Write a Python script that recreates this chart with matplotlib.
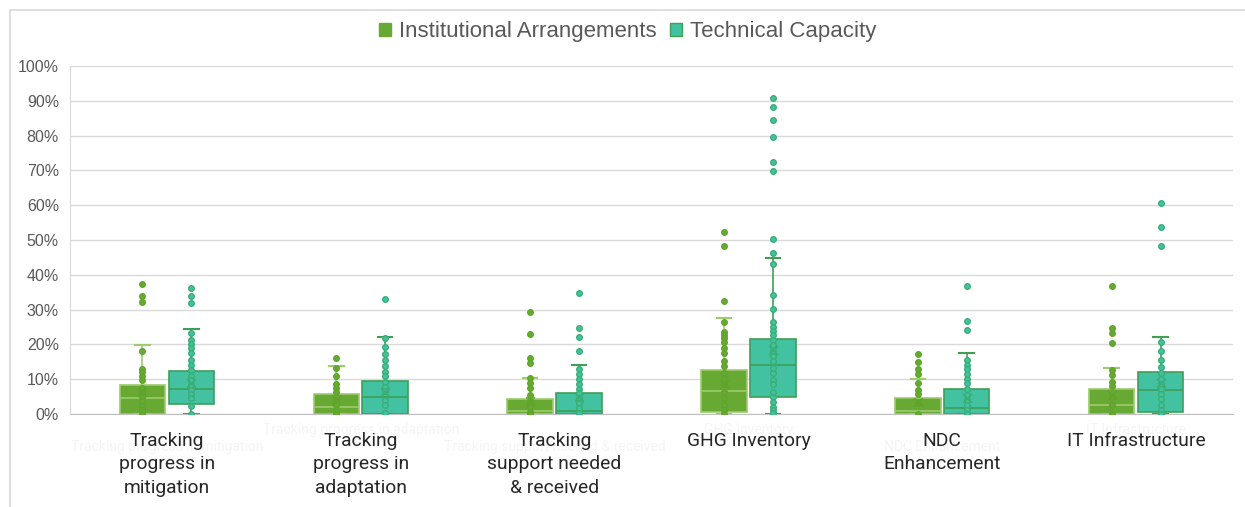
import numpy as np
import matplotlib.pyplot as plt
from matplotlib.patches import Patch, Rectangle
from matplotlib.ticker import PercentFormatter

categories = ['Tracking\nprogress in\nmitigation', 'Tracking\nprogress in\nadaptation',
              'Tracking\nsupport needed\n& received', 'GHG Inventory',
              'NDC\nEnhancement', 'IT Infrastructure']
ghost_labels = ['Tracking progress in mitigation', 'Tracking progress in adaptation',
                'Tracking support needed & received', 'GHG Inventory',
                'NDC Enhancement', 'IT Infrastructure']
series = ['Institutional Arrangements', 'Technical Capacity']

# Institutional Arrangements box stats (%)
ia_q1 = [0, 0, 0, 0.5, 0, 0]
ia_med = [4.7, 2.1, 0.8, 6.6, 0.8, 2.6]
ia_q3 = [8.3, 5.7, 4.2, 12.6, 4.7, 7.2]
ia_lo = [0, 0, 0, 0, 0, 0]
ia_hi = [19.9, 13.8, 10.3, 27.7, 10.0, 13.3]
ia_mean = [6.2, 4.0, 3.6, 8.5, 3.4, 5.4]
ia_points = [
    [37.5, 34.0, 32.1, 18.2, 12.8, 12.0, 10.9, 9.8, 7.5, 6.3, 4.7, 3.6, 2.3, 1.1, 0],
    [16.1, 13.1, 11.0, 8.5, 7.4, 6.2, 4.0, 2.6, 1.1, 0],
    [29.2, 22.9, 16.0, 14.6, 10.3, 8.8, 7.4, 5.5, 3.5, 2.1, 0.7, 0],
    [52.2, 48.4, 32.6, 26.5, 23.7, 22.7, 21.7, 20.6, 19.1, 17.4, 15.2, 13.9,
     11.7, 10.2, 8.5, 6.4, 4.5, 2.6, 1.1, 0],
    [17.2, 14.9, 12.8, 11.5, 8.8, 6.9, 5.7, 3.1, 0],
    [36.7, 24.8, 23.2, 20.5, 12.6, 11.2, 9.3, 8.0, 5.0, 2.6, 0],
]

# Technical Capacity box stats (%)
tc_q1 = [2.8, 0, 0, 5.0, 0, 0.7]
tc_med = [7.3, 5.0, 1.0, 14.0, 1.6, 6.8]
tc_q3 = [12.4, 9.6, 5.9, 21.5, 7.1, 12.2]
tc_lo = [0, 0, 0, 0, 0, 0]
tc_hi = [24.3, 22.1, 14.1, 44.7, 17.4, 22.2]
tc_mean = [8.8, 6.4, 5.0, 18.5, 4.7, 8.8]
tc_points = [
    [36.1, 34.0, 31.8, 23.2, 21.3, 20.1, 18.9, 17.4, 15.5, 14.1, 12.6, 10.9,
     9.8, 8.3, 6.9, 5.7, 4.5, 2.3, 0],
    [33.0, 21.7, 19.3, 17.2, 15.4, 13.7, 12.2, 11.0, 9.3, 7.9, 6.6, 4.0, 2.6, 0.2],
    [34.7, 24.8, 22.2, 18.2, 12.8, 11.4, 10.0, 8.6, 7.2, 5.9, 4.5, 3.1, 1.6, 0.2],
    [90.7, 88.3, 84.5, 79.7, 72.5, 69.8, 50.2, 46.4, 43.2, 34.2, 30.1, 26.5,
     25.1, 23.9, 22.7, 21.3, 19.8, 18.1, 16.7, 15.2, 13.3, 11.7, 9.8, 8.5,
     6.4, 5.0, 3.5, 2.1, 1.1, 0.2],
    [36.8, 26.7, 24.0, 15.5, 14.1, 12.8, 11.5, 10.2, 8.8, 7.1, 5.5, 4.0, 2.6, 1.1, 0],
    [60.7, 53.8, 48.3, 20.8, 18.1, 15.5, 13.4, 11.9, 10.2, 8.6, 7.1, 5.7, 4.2,
     2.6, 1.1, 0],
]

ia_fill, ia_edge, ia_dot = '#68a934', '#9ccc6c', '#5fa52c'
tc_fill, tc_edge, tc_dot = '#42c2a0', '#3f9e57', '#3aae74'

fig = plt.figure(figsize=(12.45, 5.07), dpi=100)
ax = fig.add_axes([70 / 1245, 1 - 414 / 507, 1163 / 1245, 348 / 507])

x = np.arange(len(categories))
off = 0.126
width = 0.235


def draw_series(q1, med, q3, lo, hi, mean, points, pos, fill, edge, dot):
    stats = []
    for i in range(len(q1)):
        stats.append({'q1': q1[i], 'med': med[i], 'q3': q3[i],
                      'whislo': lo[i], 'whishi': hi[i], 'mean': mean[i]})
    ax.bxp(stats, positions=pos, widths=width, patch_artist=True,
           showfliers=False, capwidths=0.075,
           boxprops=dict(facecolor=fill, edgecolor=edge, linewidth=1.2),
           medianprops=dict(color=edge, linewidth=1.2),
           whiskerprops=dict(color=edge, linewidth=1.2),
           capprops=dict(color=edge, linewidth=1.5),
           manage_ticks=False, zorder=2)
    for i, pts in enumerate(points):
        ax.scatter(np.full(len(pts), pos[i]), pts, s=16, facecolor=fill,
                   edgecolor=dot, linewidth=1.0, zorder=3)
    ax.scatter(pos, mean, marker='x', s=40, color=dot, linewidth=1.2, zorder=4)


draw_series(ia_q1, ia_med, ia_q3, ia_lo, ia_hi, ia_mean, ia_points,
            x - off, ia_fill, ia_edge, ia_dot)
draw_series(tc_q1, tc_med, tc_q3, tc_lo, tc_hi, tc_mean, tc_points,
            x + off, tc_fill, tc_edge, tc_dot)

ax.set_xlim(-0.5, len(categories) - 0.5)
ax.set_ylim(0, 100)
ax.set_yticks(np.arange(0, 101, 10))
ax.yaxis.set_major_formatter(PercentFormatter(decimals=0))
ax.grid(axis='y', color='#d9d9d9', linewidth=1, zorder=0)
ax.set_axisbelow(True)
for s in ['top', 'right']:
    ax.spines[s].set_visible(False)
ax.spines['left'].set_color('#d9d9d9')
ax.spines['bottom'].set_color('#bfbfbf')
ax.tick_params(axis='y', length=0, pad=8, labelcolor='#595959', labelsize=11.5)
ax.tick_params(axis='x', length=0, pad=13)
for lab in ax.get_yticklabels():
    lab.set_family('Liberation Sans')

ax.set_xticks(x)
ax.set_xticklabels(categories, fontsize=13.9, family='Roboto', color='#262626',
                   linespacing=1.38, va='top')

# faint staggered labels that sit behind the real ones
for i, g in enumerate(ghost_labels):
    yy = -0.046 if i % 2 else -0.095
    ax.text(x[i], yy, g, transform=ax.get_xaxis_transform(), ha='center',
            va='center', fontsize=10, color='#f5f5f5', family='Roboto', zorder=0)

handles = [Patch(facecolor=ia_fill, edgecolor=ia_fill),
           Patch(facecolor=tc_fill, edgecolor=tc_edge)]
fig.legend(handles, series, loc='center', bbox_to_anchor=(0.504, 1 - 32 / 507),
           ncol=2, frameon=False, handlelength=0.55, handleheight=0.55,
           handletextpad=0.35, columnspacing=0.6, labelcolor='#595959',
           prop={'family': 'Liberation Sans', 'size': 16})

# chart frame
fig.patches.append(Rectangle((10 / 1245, -0.05), 1.1, 1.05 - 10 / 507,
                             transform=fig.transFigure, fill=False,
                             edgecolor='#d9d9d9', linewidth=1.2))

fig.savefig('out.png', dpi=100)
